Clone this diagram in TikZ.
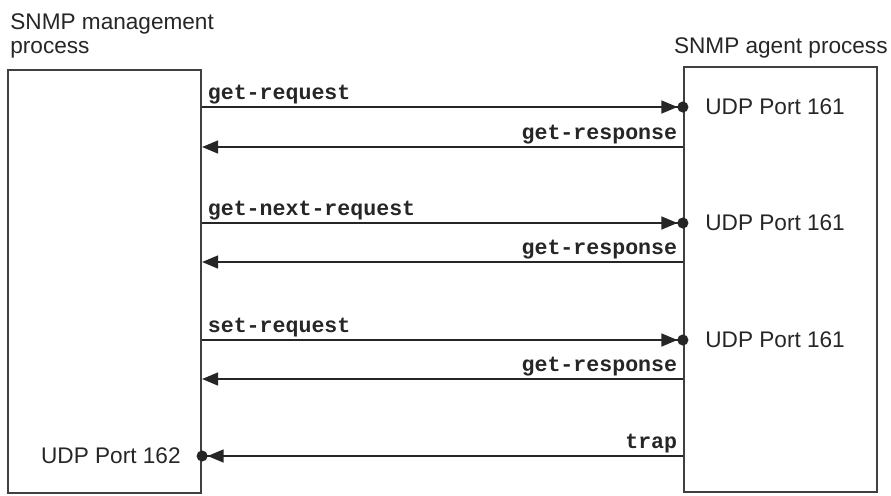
\documentclass[tikz,border=0pt]{standalone}
\usepackage{fontspec}
\setmainfont{Liberation Sans}
\setmonofont{Liberation Mono}
\usetikzlibrary{arrows.meta, positioning}

\begin{document}
\begin{tikzpicture}[x=0.5pt, y=-0.5pt,
  every node/.style={font=\fontsize{11.3}{12}\selectfont, text=black!85},
  procbox/.style={draw=black!75, line width=1.1pt, minimum width=96.5pt, inner sep=0pt},
  port/.style={anchor=west, inner sep=0pt},
  msg/.style={font=\fontsize{10.8}{12}\selectfont\ttfamily\bfseries, inner sep=0pt},
  req/.style={draw=black!85, line width=0.75pt, -{Triangle[length=8pt,width=6.5pt]Circle[length=5.5pt]}, shorten >=-2.75pt},
  resp/.style={draw=black!85, line width=0.75pt, -{Triangle[length=8pt,width=6.5pt]}}]
\useasboundingbox (0,0) rectangle (891,495);

% the two processes
\node[procbox, minimum height=211.5pt] (mgr) at (104.5,281.5) {};
\node[procbox, minimum height=212.5pt] (agent) at (780.5,279.5) {};
\node[anchor=north west, inner sep=0pt, align=left] (mgrtitle) at (10,13) {SNMP management\\process};
\node[anchor=base east, inner sep=0pt] (agenttitle) at (888,53) {SNMP agent process};

% ports
\node[port] (p1) at (705,107) {UDP Port 161};
\node[port] (p2) at (705,223) {UDP Port 161};
\node[port] (p3) at (705,340) {UDP Port 161};
\node[port, anchor=east] (p4) at (181,456) {UDP Port 162};
\coordinate (r1) at (0,147);
\coordinate (r2) at (0,262);
\coordinate (r3) at (0,379);

% messages
\draw[req] (mgr.east |- p1) -- (agent.west |- p1) node[at start, msg, anchor=base west, xshift=2.5pt, yshift=4pt] {get-request};
\draw[resp] (agent.west |- r1) -- (mgr.east |- r1) node[at start, msg, anchor=base east, xshift=-2.5pt, yshift=4pt] {get-response};
\draw[req] (mgr.east |- p2) -- (agent.west |- p2) node[at start, msg, anchor=base west, xshift=2.5pt, yshift=4pt] {get-next-request};
\draw[resp] (agent.west |- r2) -- (mgr.east |- r2) node[at start, msg, anchor=base east, xshift=-2.5pt, yshift=4pt] {get-response};
\draw[req] (mgr.east |- p3) -- (agent.west |- p3) node[at start, msg, anchor=base west, xshift=2.5pt, yshift=4pt] {set-request};
\draw[resp] (agent.west |- r3) -- (mgr.east |- r3) node[at start, msg, anchor=base east, xshift=-2.5pt, yshift=4pt] {get-response};
\draw[req] (agent.west |- p4) -- (mgr.east |- p4) node[at start, msg, anchor=base east, xshift=-2.5pt, yshift=4pt] {trap};
\end{tikzpicture}
\end{document}
